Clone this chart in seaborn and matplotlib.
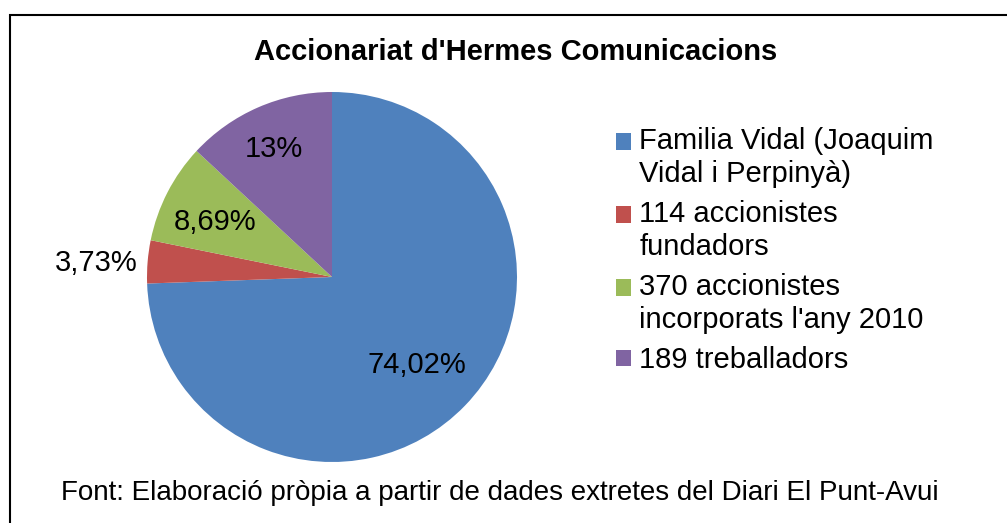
import numpy as np
import matplotlib
matplotlib.use("Agg")
import matplotlib.pyplot as plt
import matplotlib.patches as mpatches
from matplotlib.legend_handler import HandlerPatch
import seaborn as sns

sns.set_theme(style="white")
plt.rcParams['font.family'] = ['Liberation Sans', 'DejaVu Sans']
plt.rcParams['text.color'] = 'black'

# dades
categories = ["Familia Vidal (Joaquim\nVidal i Perpinyà)",
              "114 accionistes\nfundadors",
              "370 accionistes\nincorporats l'any 2010",
              "189 treballadors"]
values = [74.02, 3.73, 8.69, 13.0]
value_labels = ["74,02%", "3,73%", "8,69%", "13%"]
colors = ["#4F81BD", "#C0504D", "#9BBB59", "#8064A2"]
label_dist = [0.64, 1.28, 0.71, 0.79]


# el quadradet de la llegenda alineat amb la primera línia
class TopPatch(HandlerPatch):
    def __init__(self, shift=0, **kw):
        super().__init__(**kw)
        self.shift = shift

    def create_artists(self, legend, orig_handle, xdescent, ydescent,
                       width, height, fontsize, trans):
        arts = super().create_artists(legend, orig_handle, xdescent, ydescent,
                                      width, height, fontsize, trans)
        for a in arts:
            a.set_y(a.get_y() + self.shift)
        return arts


fig = plt.figure(figsize=(10.07, 5.23), dpi=100)
W, H = 1007, 523
cx, cy, r = 332, 277, 185
ax = fig.add_axes([(cx - r) / W, (H - cy - r) / H, 2 * r / W, 2 * r / H])

wedges, _ = ax.pie(values, colors=colors, startangle=90, counterclock=False,
                   radius=1, wedgeprops=dict(linewidth=0))
ax.set_xlim(-1, 1)
ax.set_ylim(-1, 1)
ax.set_aspect('equal')
ax.axis('off')

for w, lab, d in zip(wedges, value_labels, label_dist):
    ang = np.deg2rad((w.theta1 + w.theta2) / 2)
    ax.text(d * np.cos(ang), d * np.sin(ang) - 0.03, lab, ha='center', va='center',
            fontsize=21, color='black', clip_on=False)

# llegenda
handles = [mpatches.Patch(facecolor=c, edgecolor='none') for c in colors]
hmap = {h: TopPatch(shift=12 if '\n' in lab else 0) for h, lab in zip(handles, categories)}
leg = fig.legend(handles, categories, loc='upper left',
                 bbox_to_anchor=(616 / W, 1 - 127 / H), handler_map=hmap,
                 frameon=False, fontsize=21, handlelength=0.5, handleheight=0.5,
                 handletextpad=0.3, labelspacing=0.42, borderaxespad=0, borderpad=0)
for t in leg.get_texts():
    t.set_linespacing(1.22)
    t.set_color('black')

fig.text(516 / W, 1 - 52 / H, "Accionariat d'Hermes Comunicacions", ha='center',
         va='center', fontsize=21, fontweight='bold')
fig.text(500 / W, 1 - 493 / H,
         "Font: Elaboració pròpia a partir de dades extretes del Diari El Punt-Avui",
         ha='center', va='center', fontsize=20)

# marc
fig.patches.append(mpatches.Rectangle((10 / W, -0.1), 1.2, 0.1 + (H - 15) / H,
                                      transform=fig.transFigure, fill=False,
                                      edgecolor='black', linewidth=1.5, clip_on=False))

fig.savefig("out.png", dpi=100)
